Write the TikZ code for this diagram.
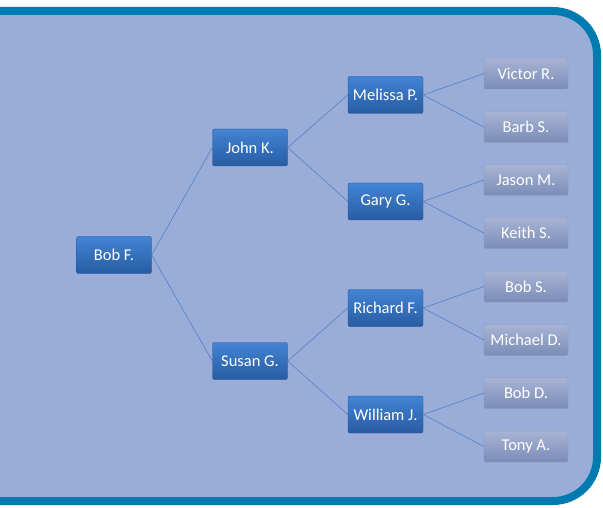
\documentclass[tikz,border=0pt]{standalone}
\usepackage{fontspec}
\setmainfont{Carlito}
\definecolor{panelfill}{RGB}{154,173,216}
\definecolor{panelborder}{RGB}{0,123,176}
\definecolor{boxtop}{RGB}{66,132,212}
\definecolor{boxbot}{RGB}{40,92,163}
\definecolor{boxline}{RGB}{38,84,150}
\definecolor{leaftop}{RGB}{168,180,212}
\definecolor{leafbot}{RGB}{122,140,182}
\definecolor{linkcol}{RGB}{84,128,198}
\tikzset{
  person/.style={rounded corners=2pt, minimum width=75pt, minimum height=37pt,
    top color=boxtop, bottom color=boxbot, draw=boxline, line width=0.4pt,
    text=white, font=\fontsize{16.5}{16.5}\selectfont, inner sep=0pt},
  leafbox/.style={rounded corners=2pt, minimum width=84pt, minimum height=31pt,
    top color=leaftop, bottom color=leafbot, draw=leafbot!90!white, line width=0.3pt,
    text=white, font=\fontsize{16.5}{16.5}\selectfont, inner sep=0pt},
  link/.style={draw=linkcol, line width=0.6pt}
}
\begin{document}
\begin{tikzpicture}[x=1pt,y=-1pt]
\useasboundingbox (0,0) rectangle (603,508);
\begin{scope}
\clip (0,0) rectangle (603,508);
\fill[white] (0,0) rectangle (603,508);
\draw[fill=panelfill, draw=panelborder, line width=8pt, rounded corners=44pt]
  (-60,11) -- (597,11) -- (597,501) -- (-60,501) -- cycle;
\end{scope}
% nodes
\node[person] (bob) at (114,255) {Bob F.};
\node[person] (john) at (250,147.5) {John K.};
\node[person] (susan) at (250,361) {Susan G.};
\node[person] (melissa) at (385.5,95) {Melissa P.};
\node[person] (gary) at (385.5,201.5) {Gary G.};
\node[person] (richard) at (385.5,308) {Richard F.};
\node[person] (william) at (385.5,414.5) {William J.};
\node[leafbox] (victor) at (526,73.5) {Victor R.};
\node[leafbox] (barb) at (526,127) {Barb S.};
\node[leafbox] (jason) at (526,180) {Jason M.};
\node[leafbox] (keith) at (526,233) {Keith S.};
\node[leafbox] (bobs) at (526,286.5) {Bob S.};
\node[leafbox] (michael) at (526,340) {Michael D.};
\node[leafbox] (bobd) at (526,393) {Bob D.};
\node[leafbox] (tony) at (526,446.5) {Tony A.};
% connectors
\draw[link] (bob.east) -- (john.west);
\draw[link] (bob.east) -- (susan.west);
\draw[link] (john.east) -- (melissa.west);
\draw[link] (john.east) -- (gary.west);
\draw[link] (susan.east) -- (richard.west);
\draw[link] (susan.east) -- (william.west);
\draw[link] (melissa.east) -- (victor.west);
\draw[link] (melissa.east) -- (barb.west);
\draw[link] (gary.east) -- (jason.west);
\draw[link] (gary.east) -- (keith.west);
\draw[link] (richard.east) -- (bobs.west);
\draw[link] (richard.east) -- (michael.west);
\draw[link] (william.east) -- (bobd.west);
\draw[link] (william.east) -- (tony.west);
\end{tikzpicture}
\end{document}
